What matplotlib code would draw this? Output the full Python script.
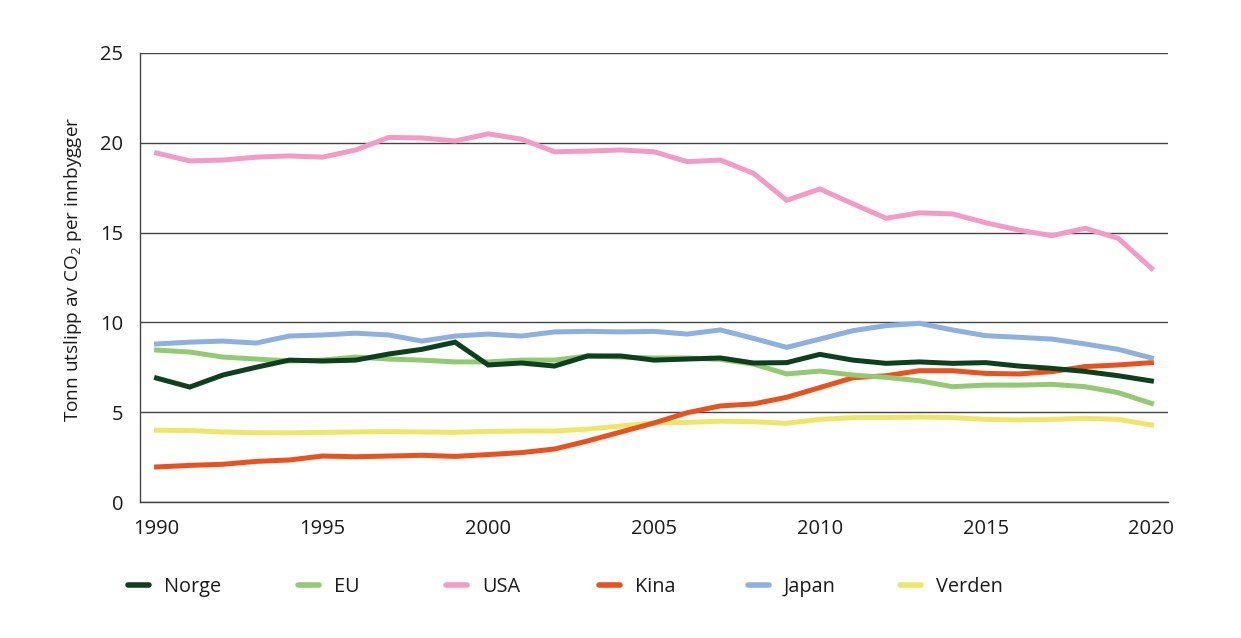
import matplotlib
matplotlib.use("Agg")
import matplotlib.pyplot as plt
from matplotlib.lines import Line2D

plt.rcParams['font.family'] = ['Open Sans', 'DejaVu Sans']
plt.rcParams['mathtext.fontset'] = 'custom'
plt.rcParams['mathtext.rm'] = 'Open Sans'

years = list(range(1990, 2021))

norge = [6.9, 6.4, 7.07, 7.5, 7.9, 7.85, 7.9, 8.24, 8.5, 8.9,
         7.63, 7.74, 7.57, 8.13, 8.13, 7.9, 7.96, 8.02, 7.74, 7.76,
         8.22, 7.9, 7.72, 7.8, 7.72, 7.76, 7.57, 7.44, 7.27, 7.03, 6.74]
eu = [8.46, 8.35, 8.07, 7.96, 7.85, 7.9, 8.07, 7.96, 7.9, 7.8,
      7.8, 7.9, 7.9, 8.13, 8.07, 8.02, 8.02, 7.94, 7.68, 7.13,
      7.29, 7.07, 6.94, 6.75, 6.42, 6.51, 6.51, 6.55, 6.42, 6.09, 5.49]
usa = [19.43, 18.99, 19.04, 19.2, 19.27, 19.2, 19.6, 20.3, 20.27, 20.1,
       20.5, 20.2, 19.5, 19.54, 19.6, 19.5, 18.95, 19.04, 18.3, 16.8,
       17.43, 16.6, 15.8, 16.1, 16.04, 15.55, 15.14, 14.83, 15.24, 14.68, 13.01]
kina = [1.95, 2.04, 2.1, 2.26, 2.34, 2.56, 2.52, 2.56, 2.6, 2.54,
        2.64, 2.75, 2.95, 3.4, 3.9, 4.4, 4.97, 5.35, 5.46, 5.83,
        6.37, 6.92, 7.03, 7.31, 7.31, 7.16, 7.13, 7.26, 7.54, 7.63, 7.76]
japan = [8.8, 8.9, 8.96, 8.85, 9.24, 9.3, 9.4, 9.3, 8.96, 9.24,
         9.35, 9.24, 9.47, 9.5, 9.47, 9.5, 9.35, 9.58, 9.11, 8.61,
         9.07, 9.54, 9.82, 9.95, 9.58, 9.26, 9.17, 9.07, 8.8, 8.5, 8.02]
verden = [4.0, 3.98, 3.9, 3.86, 3.85, 3.88, 3.9, 3.92, 3.9, 3.88,
          3.93, 3.95, 3.95, 4.06, 4.23, 4.41, 4.43, 4.5, 4.47, 4.38,
          4.6, 4.7, 4.7, 4.73, 4.7, 4.6, 4.57, 4.6, 4.66, 4.6, 4.29]

series = [("Norge", norge, "#0e4020"),
          ("EU", eu, "#94c973"),
          ("USA", usa, "#f29bc5"),
          ("Kina", kina, "#e8521f"),
          ("Japan", japan, "#8db0df"),
          ("Verden", verden, "#f0e56b")]

# venstre kant for hvert legendeelement (piksler)
leg_x = [128, 298, 446, 599, 748, 900]

fig = plt.figure(figsize=(12.41, 6.38), dpi=100)
ax = fig.add_axes([140/1241, 136/638, 1028/1241, 449/638])

# tegningsrekkefølge: gul og rød under, grønne og blå over
order = [5, 3, 1, 0, 4, 2]
for i in order:
    name, vals, col = series[i]
    ax.plot(years, vals, color=col, lw=3.6, solid_joinstyle='miter', zorder=3)

ax.set_xlim(1989.5, 2020.5)
ax.set_ylim(0, 25)
ax.set_yticks([0, 5, 10, 15, 20, 25])
ax.set_xticks([1990, 1995, 2000, 2005, 2010, 2015, 2020])
ax.yaxis.grid(True, color="#444444", lw=1.0)
ax.set_axisbelow(True)
for s in ['top', 'right']:
    ax.spines[s].set_visible(False)
for s in ['left', 'bottom']:
    ax.spines[s].set_color("#444444")
    ax.spines[s].set_linewidth(1.0)
ax.tick_params(length=0, labelsize=14.5, colors="#1a1a1a")
ax.tick_params(axis='x', pad=12)
ax.tick_params(axis='y', pad=12)
ax.set_ylabel(r"Tonn utslipp av CO$_{\mathrm{2}}$ per innbygger", fontsize=13.7,
              color="#1a1a1a", labelpad=12)
ax.yaxis.label.set_y(0.518)

# legende med egne posisjoner for hvert element
for i, (name, vals, col) in enumerate(series):
    h = Line2D([0], [0], color=col, lw=4, solid_capstyle='round')
    leg = fig.legend([h], [name], loc='center left',
                     bbox_to_anchor=(leg_x[i] / 1241, 1 - 587/638),
                     frameon=False, fontsize=14.3, handlelength=1.05,
                     handletextpad=0.75, borderaxespad=0, borderpad=0)
    for t in leg.get_texts():
        t.set_color("#1a1a1a")

fig.savefig("out.png", dpi=100)
